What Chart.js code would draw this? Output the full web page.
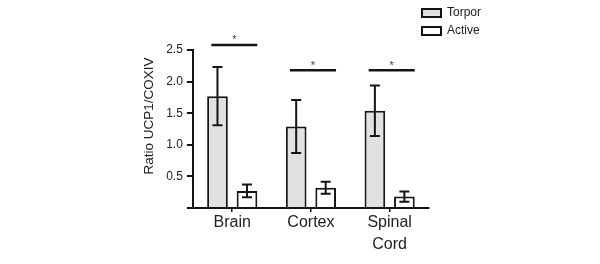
<!DOCTYPE html>
<html>
<head>
<meta charset="utf-8">
<script src="https://cdn.jsdelivr.net/npm/chart.js@4.4.1/dist/chart.umd.min.js"></script>
<style>
  html, body { margin: 0; padding: 0; background: #fff; }
</style>
</head>
<body>
<canvas id="chart" width="600" height="264"></canvas>
<script>
const regions = ['Brain', 'Cortex', ['Spinal', 'Cord']];
const torpor = [1.77, 1.29, 1.54];
const torporErr = [0.46, 0.42, 0.40];
const active = [0.27, 0.32, 0.18];
const activeErr = [0.10, 0.095, 0.08];
const sigLevel = [2.58, 2.18, 2.18];
const yTicks = [0, 0.5, 1.0, 1.5, 2.0, 2.5];

const FONT = '"Liberation Sans", Arial, sans-serif';
const INK = '#151515';

/* error bars on top of each bar */
const errorBars = {
    id: 'errorBars',
    afterDatasetsDraw(chart) {
        const { ctx, scales: { y } } = chart;
        ctx.save();
        ctx.strokeStyle = INK;
        ctx.lineWidth = 2;
        chart.data.datasets.forEach((ds, di) => {
            chart.getDatasetMeta(di).data.forEach((bar, i) => {
                const hi = y.getPixelForValue(ds.data[i] + ds.errors[i]);
                const lo = y.getPixelForValue(ds.data[i] - ds.errors[i]);
                ctx.beginPath();
                ctx.moveTo(bar.x, hi); ctx.lineTo(bar.x, lo);
                ctx.moveTo(bar.x - 5, hi); ctx.lineTo(bar.x + 5, hi);
                ctx.moveTo(bar.x - 5, lo); ctx.lineTo(bar.x + 5, lo);
                ctx.stroke();
            });
        });
        ctx.restore();
    }
};

/* significance lines with asterisks */
const sigBars = {
    id: 'sigBars',
    afterDraw(chart) {
        const { ctx, scales: { y } } = chart;
        const a = chart.getDatasetMeta(0).data;
        const b = chart.getDatasetMeta(1).data;
        ctx.save();
        ctx.strokeStyle = INK;
        ctx.lineWidth = 2.5;
        ctx.fillStyle = '#444';
        ctx.font = '11px ' + FONT;
        ctx.textAlign = 'center';
        ctx.textBaseline = 'alphabetic';
        sigLevel.forEach((lvl, i) => {
            const x0 = a[i].x - a[i].width * 0.3;
            const x1 = b[i].x + b[i].width / 2;
            const py = y.getPixelForValue(lvl);
            ctx.beginPath();
            ctx.moveTo(x0, py); ctx.lineTo(x1, py);
            ctx.stroke();
            ctx.fillText('*', (x0 + x1) / 2, py - 1.5);
        });
        ctx.restore();
    }
};

/* legend sits in the top right corner, above the plot */
const legendSpot = {
    id: 'legendSpot',
    afterLayout(chart) {
        const lg = chart.legend;
        const w = lg.width, h = lg.height;
        lg.left = 416; lg.right = 416 + w;
        lg.top = 1; lg.bottom = 1 + h;
    }
};

new Chart(document.getElementById('chart'), {
    type: 'bar',
    data: {
        labels: regions,
        datasets: [
            {
                label: 'Torpor',
                data: torpor,
                errors: torporErr,
                backgroundColor: '#e1e1e1',
                borderColor: INK,
                borderWidth: 2,
                categoryPercentage: 0.75,
                barPercentage: 0.7
            },
            {
                label: 'Active',
                data: active,
                errors: activeErr,
                backgroundColor: '#ffffff',
                borderColor: INK,
                borderWidth: 2,
                categoryPercentage: 0.75,
                barPercentage: 0.7
            }
        ]
    },
    options: {
        responsive: false,
        animation: false,
        layout: { padding: { left: 131, right: 96, top: 50, bottom: 8 } },
        plugins: {
            legend: {
                position: 'right',
                align: 'start',
                labels: {
                    boxWidth: 19,
                    boxHeight: 8,
                    padding: 6,
                    color: '#222',
                    font: { family: FONT, size: 12 }
                }
            },
            tooltip: { enabled: false }
        },
        scales: {
            x: {
                offset: true,
                grid: { offset: false, drawOnChartArea: false, drawTicks: true, tickLength: 4, color: INK, lineWidth: 1.5 },
                border: { color: INK, width: 2 },
                ticks: {
                    padding: 0,
                    color: '#222',
                    font: { family: FONT, size: 16, lineHeight: 1.375 }
                }
            },
            y: {
                min: 0,
                max: 2.5,
                afterBuildTicks: scale => { scale.ticks = yTicks.map(v => ({ value: v })); },
                grid: { drawOnChartArea: false, drawTicks: true, tickLength: 6, color: INK, lineWidth: 2 },
                border: { color: INK, width: 2 },
                ticks: {
                    padding: 4,
                    color: '#222',
                    font: { family: FONT, size: 12 },
                    callback: v => (v === 0 ? '' : v.toFixed(1))
                },
                title: {
                    display: true,
                    text: 'Ratio UCP1/COXIV  ',
                    align: 'end',
                    color: '#222',
                    font: { family: FONT, size: 13.5 },
                    padding: { top: 10, bottom: 5 }
                }
            }
        }
    },
    plugins: [errorBars, sigBars, legendSpot]
});
</script>
</body>
</html>
